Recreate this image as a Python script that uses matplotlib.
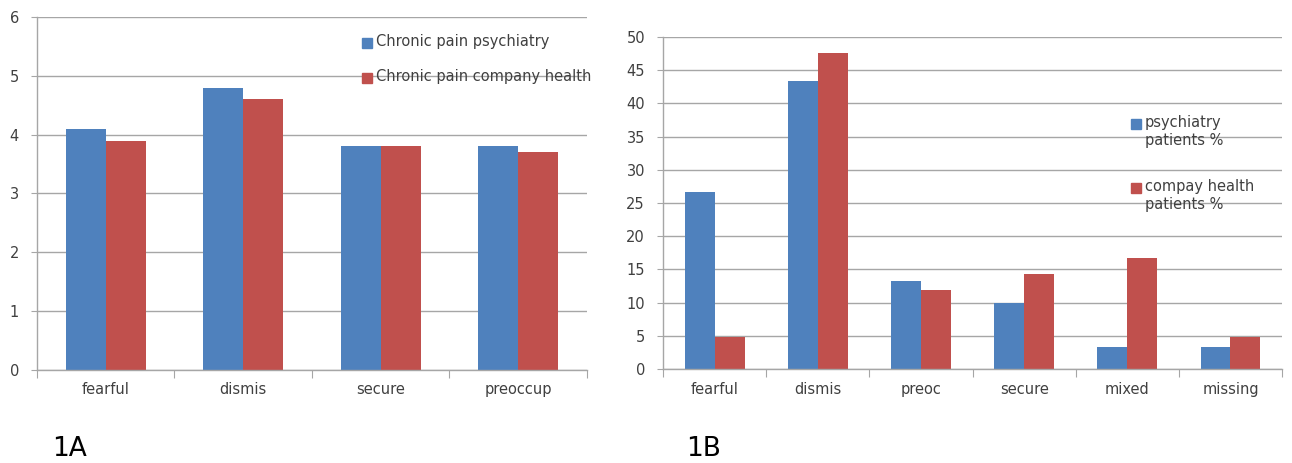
import matplotlib
matplotlib.use("Agg")
import matplotlib.pyplot as plt
from matplotlib.patches import Rectangle
import numpy as np

cats_a = ["fearful", "dismis", "secure", "preoccup"]
psych_a = [4.1, 4.8, 3.8, 3.8]
comp_a = [3.9, 4.6, 3.8, 3.7]

cats_b = ["fearful", "dismis", "preoc", "secure", "mixed", "missing"]
psych_b = [26.7, 43.3, 13.3, 10.0, 3.3, 3.3]
comp_b = [4.8, 47.6, 11.9, 14.3, 16.7, 4.8]

labels_a = ["Chronic pain psychiatry", "Chronic pain company health"]
labels_b = ["psychiatry\npatients %", "compay health\npatients %"]

BLUE = "#4f81bd"
RED = "#c0504d"
GRID = "#a6a6a6"
TXT = "#404040"
FS = 10.5

plt.rcParams['font.family'] = ['DejaVu Sans']

W, H = 1292, 463
fig = plt.figure(figsize=(W / 100, H / 100), dpi=100)

def style(ax, n, ymax, step, labels):
    ax.set_xlim(0, n)
    ax.set_ylim(0, ymax)
    ax.set_yticks(np.arange(0, ymax + step / 2, step))
    ax.yaxis.grid(True, color=GRID, linewidth=1.0)
    ax.set_axisbelow(True)
    for s in ["top", "right"]:
        ax.spines[s].set_visible(False)
    for s in ["left", "bottom"]:
        ax.spines[s].set_color(GRID)
        ax.spines[s].set_linewidth(1.0)
    ax.set_xticks(np.arange(0, n + 1))
    ax.set_xticklabels([])
    ax.set_xticks(np.arange(n) + 0.5, minor=True)
    ax.set_xticklabels(labels, minor=True)
    ax.tick_params(axis="x", which="major", length=6, color=GRID, direction="out")
    ax.tick_params(axis="x", which="minor", length=0, pad=9, labelsize=FS, labelcolor=TXT)
    ax.tick_params(axis="y", length=4, color=GRID, labelsize=FS, labelcolor=TXT, pad=9)

def legend_entry(x_px, y_px, color, label):
    # square handle + text, in figure pixel positions (decoration only)
    s = 10
    fig.patches.append(Rectangle(((x_px) / W, 1 - (y_px + s / 2) / H), s / W, s / H,
                                 transform=fig.transFigure, color=color, zorder=5))
    fig.text((x_px + s + 4) / W, 1 - (y_px - 9) / H, label, fontsize=FS, color=TXT,
             va="top", ha="left", linespacing=1.25, zorder=5)

# Panel A
axA = fig.add_axes([0.0286, 0.2009, 0.4257, 0.7624])
xa = np.arange(len(cats_a)) + 0.5
w = 0.29
axA.bar(xa - w / 2, psych_a, w, color=BLUE)
axA.bar(xa + w / 2, comp_a, w, color=RED)
style(axA, len(cats_a), 6, 1, cats_a)

# Panel B
axB = fig.add_axes([0.5132, 0.2030, 0.4791, 0.7171])
xb = np.arange(len(cats_b)) + 0.5
axB.bar(xb - w / 2, psych_b, w, color=BLUE)
axB.bar(xb + w / 2, comp_b, w, color=RED)
style(axB, len(cats_b), 50, 5, cats_b)

legend_entry(362, 43, BLUE, labels_a[0])
legend_entry(362, 78, RED, labels_a[1])
legend_entry(1131, 124, BLUE, labels_b[0])
legend_entry(1131, 188, RED, labels_b[1])

fig.text(52 / W, 1 - 449 / H, "1A", fontsize=19, va="center", ha="left", color="#000000")
fig.text(686 / W, 1 - 449 / H, "1B", fontsize=19, va="center", ha="left", color="#000000")

fig.savefig("out.png", dpi=100)
